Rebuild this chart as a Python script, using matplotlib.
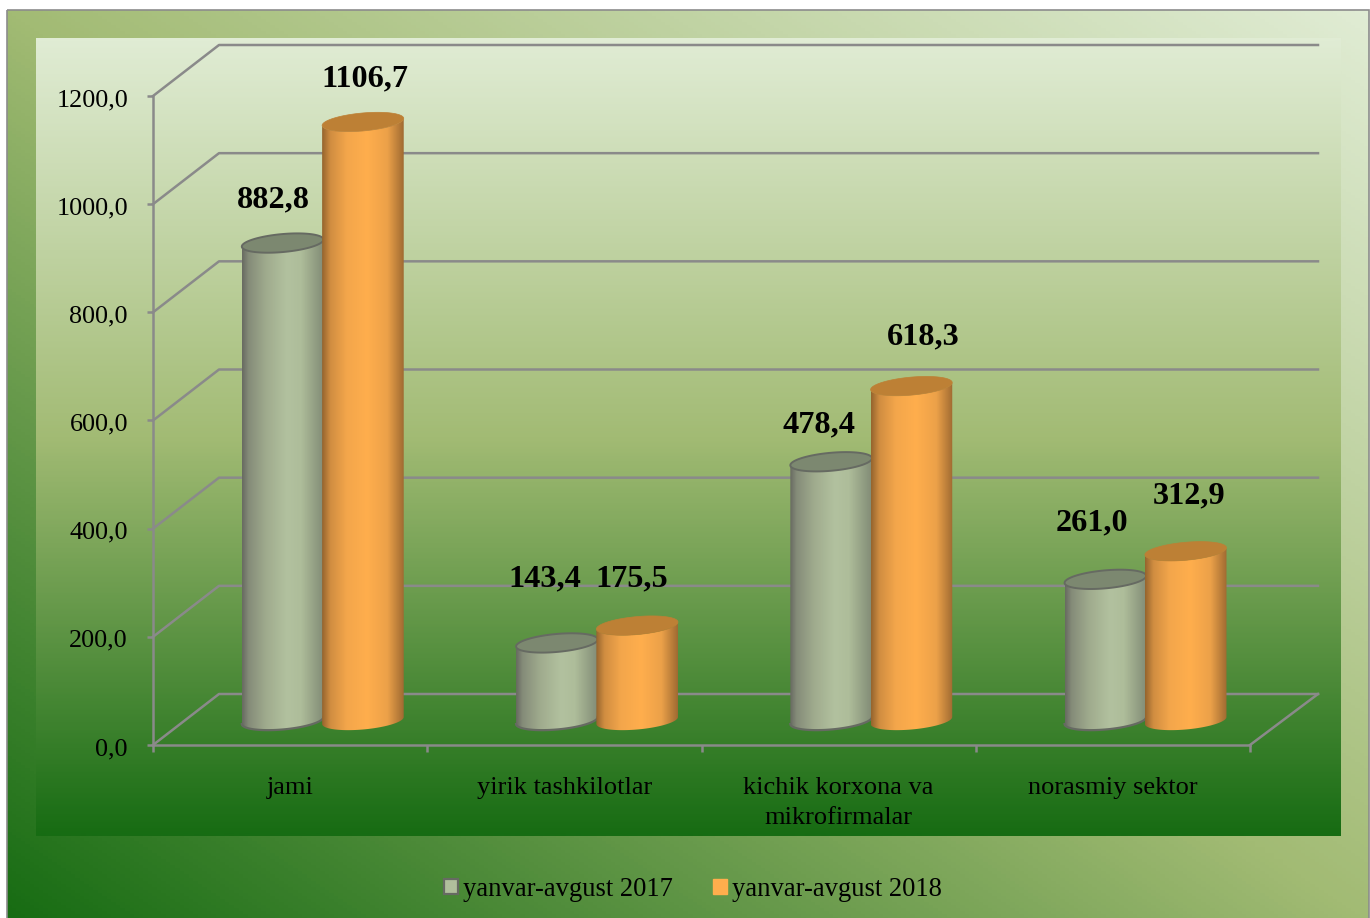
import numpy as np
import matplotlib
matplotlib.use("Agg")
import matplotlib.pyplot as plt
from matplotlib.colors import LinearSegmentedColormap
from matplotlib.patches import PathPatch, Patch, Rectangle
from matplotlib.path import Path
from matplotlib.transforms import ScaledTranslation

# donnees
categories = ["jami", "yirik tashkilotlar", "kichik korxona va\nmikrofirmalar", "norasmiy sektor"]
series_names = ["yanvar-avgust 2017", "yanvar-avgust 2018"]
values_2017 = [882.8, 143.4, 478.4, 261.0]
values_2018 = [1106.7, 175.5, 618.3, 312.9]
y_ticks = [0, 200, 400, 600, 800, 1000, 1200]

plt.rcParams['font.family'] = ['Liberation Serif', 'DejaVu Serif']

W, H = 1370, 918
LEFT, RIGHT, TOP, BOTTOM = 153, 1250, 96, 745
GRID = "#8a8a8a"

fig = plt.figure(figsize=(W / 100, H / 100), dpi=100, facecolor="white")

# fond en degrade
bg = fig.add_axes([0, 0, 1, 1], zorder=0)
bg.set_xlim(0, W)
bg.set_ylim(H, 0)
bg.axis("off")
green = LinearSegmentedColormap.from_list("green", [(0, "#176c13"), (0.5, "#a2bb74"), (1, "#e0ecd4")])
xx, yy = np.meshgrid(np.linspace(0, 1, 300), np.linspace(0, 1, 300))
bg.imshow((xx + 1 - yy) / 2, cmap=green, vmin=0, vmax=1, extent=(7, 1369, H + 2, 10), aspect="auto")
bg.imshow(np.linspace(1, 0, 400).reshape(-1, 1), cmap=green, vmin=0, vmax=1,
          extent=(36, 1341, 836, 38), aspect="auto", zorder=2)
bg.add_patch(Rectangle((7, 10), 1362, H, fill=False, edgecolor="#8c8c8c", lw=1.2, zorder=3))
bg.set_xlim(0, W)
bg.set_ylim(H, 0)

# axes sur le plan avant
ax = fig.add_axes([LEFT / W, 1 - BOTTOM / H, (RIGHT - LEFT) / W, (BOTTOM - TOP) / H], zorder=1)
ax.patch.set_alpha(0)
ax.set_xlim(0, 4)
ax.set_ylim(0, 1200)
px_x = 4 / (RIGHT - LEFT)
px_y = 1200 / (BOTTOM - TOP)
depth_x = 66 * px_x
depth_y = 51 * px_y

for s in ["top", "right"]:
    ax.spines[s].set_visible(False)
for s in ["left", "bottom"]:
    ax.spines[s].set_color(GRID)
    ax.spines[s].set_linewidth(1.8)

ax.set_yticks(y_ticks)
ax.set_yticklabels([f"{v:.1f}".replace(".", ",") for v in y_ticks], fontsize=18.8, color="black")
ax.tick_params(axis="y", length=4, width=1.8, color=GRID, pad=14)
down = ScaledTranslation(0, -1.5 / 100, fig.dpi_scale_trans)
for lab in ax.get_yticklabels():
    lab.set_transform(lab.get_transform() + down)
ax.set_xticks([0, 1, 2, 3, 4])
ax.set_xticklabels([])
ax.tick_params(axis="x", which="major", length=5, width=1.8, color=GRID)
ax.set_xticks([0.5, 1.5, 2.5, 3.5], minor=True)
ax.set_xticklabels(categories, minor=True, fontsize=19, linespacing=1.5)
ax.tick_params(axis="x", which="minor", length=0, pad=23)

# grille du mur et du sol
end_x = 4 + depth_x + 2 * px_x
for v in y_ticks:
    ax.plot([0, depth_x, end_x], [v, v + depth_y, v + depth_y], color=GRID, lw=1.8, clip_on=False, zorder=1)
ax.plot([4, end_x], [0, depth_y], color=GRID, lw=1.8, clip_on=False, zorder=1)

gray_cmap = LinearSegmentedColormap.from_list("gray3d", [(0, "#686b62"), (0.08, "#858c79"), (0.3, "#a0ac8e"),
                                                         (0.55, "#b2c19f"), (0.72, "#aebd9a"), (1, "#828c76")])
orange_cmap = LinearSegmentedColormap.from_list("orange3d", [(0, "#96652e"), (0.1, "#d08d41"), (0.3, "#f3a64b"),
                                                             (0.55, "#ffae4d"), (0.8, "#eca149"), (1, "#a06b32")])


def cylindre(cx, value, cmap, top_color, edge, z):
    a = 40.8 * px_x
    b = 9 * px_y
    tilt = 3.5 * px_y
    y0 = depth_y / 2 - px_y
    y1 = value + depth_y / 2 - px_y
    t = np.linspace(np.pi, 2 * np.pi, 60)
    # arc avant de l'ellipse, incline vers la droite
    arc_x = cx + a * np.cos(t)
    arc_y = b * np.sin(t) + tilt * np.cos(t)
    xs = np.concatenate([arc_x, arc_x[::-1]])
    ys = np.concatenate([y0 + arc_y, y1 + arc_y[::-1]])
    body = PathPatch(Path(np.column_stack([xs, ys])), facecolor="none", edgecolor="none", zorder=z)
    ax.add_patch(body)
    im = ax.imshow(np.linspace(0, 1, 200).reshape(1, -1), cmap=cmap, vmin=0, vmax=1, aspect="auto",
                   extent=(cx - a, cx + a, y0 - 2 * b, y1 + 2 * b), zorder=z, clip_on=True)
    im.set_clip_path(body)
    if edge is not None:
        ax.plot(xs[:60], ys[:60], color=edge, lw=1.6, zorder=z + 0.1, clip_on=False)
    tt = np.linspace(0, 2 * np.pi, 120)
    top = np.column_stack([cx + a * np.cos(tt), y1 + b * np.sin(tt) + tilt * np.cos(tt)])
    ax.add_patch(PathPatch(Path(top), facecolor=top_color, edgecolor=edge or top_color, lw=1.4 if edge else 0.5,
                           zorder=z + 0.2, clip_on=False))


half = 40.5 * px_x
for i in range(len(categories)):
    center = i + 0.5 + depth_x / 2
    cylindre(center - half, values_2017[i], gray_cmap, "#7c8870", "#666a62", 3 + i * 2)
    cylindre(center + half - 0.7 * px_x, values_2018[i], orange_cmap, "#bd8035", None, 4 + i * 2)

ax.set_xlim(0, 4)
ax.set_ylim(0, 1200)

# etiquettes, decalage en points depuis le centre du cylindre
label_shift_2017 = [(-6.5, 30.6), (-8.5, 45.5), (-8.5, 26), (-9.5, 40)]
label_shift_2018 = [(1, 30), (-4.5, 33), (8, 34.5), (2, 39.5)]
for i in range(len(categories)):
    center = i + 0.5 + depth_x / 2
    for val, sign, shift in [(values_2017[i], -1, label_shift_2017[i]), (values_2018[i], 1, label_shift_2018[i])]:
        ax.annotate(f"{val:.1f}".replace(".", ","), xy=(center + sign * half, val + depth_y / 2),
                    xytext=shift, textcoords="offset points", ha="center", va="center",
                    fontsize=23.2, fontweight="bold", color="black", annotation_clip=False, zorder=30)

handles = [Patch(facecolor="#b0bf9c", edgecolor="#666a62", lw=1.6), Patch(facecolor="#ffae4d", edgecolor="#ffae4d")]
fig.legend(handles, series_names, loc="center", bbox_to_anchor=(693 / W, 1 - 889.5 / H), ncol=2, frameon=False,
           fontsize=19.15, handlelength=0.53, handleheight=0.53, handletextpad=0.2, columnspacing=1.5,
           borderpad=0, borderaxespad=0)

fig.savefig("out.png", dpi=100)
